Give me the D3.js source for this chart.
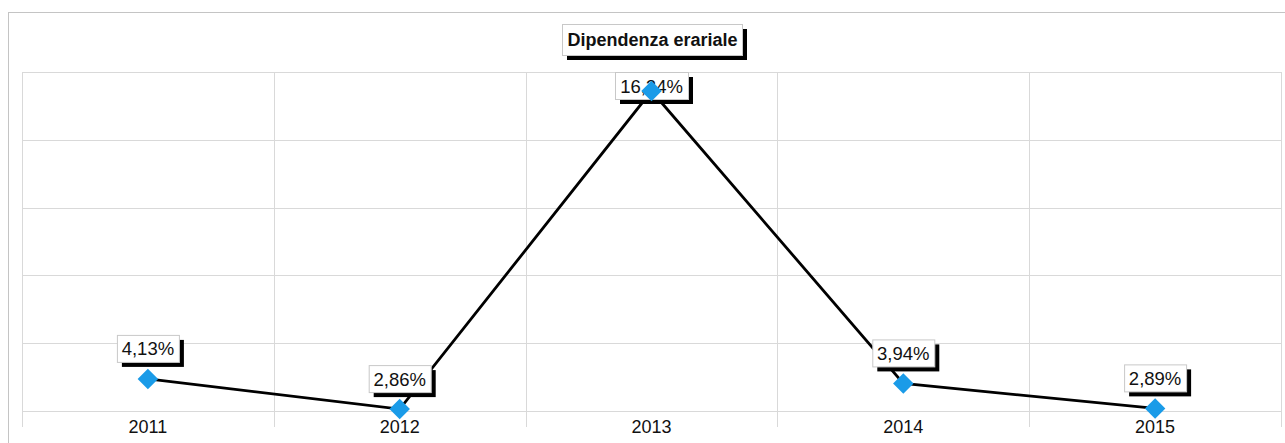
<!DOCTYPE html>
<html>
<head>
<meta charset="utf-8">
<script src="https://cdn.jsdelivr.net/npm/d3@7"></script>
<style>
  body { margin: 0; background: #fff; }
  text { font-family: "Liberation Sans", Arial, sans-serif; }
</style>
</head>
<body>
<div id="chart"></div>
<script>
var years = ['2011', '2012', '2013', '2014', '2015'];
var values = [4.13, 2.86, 16.24, 3.94, 2.89];
var valueLabels = ['4,13%', '2,86%', '16,24%', '3,94%', '2,89%'];
var title = 'Dipendenza erariale';

var width = 1285, height = 443;
var plot = { left: 22, top: 72, right: 1281, bottom: 411 };

var svg = d3.select('#chart').append('svg')
  .attr('width', width)
  .attr('height', height);

// outer frame
svg.append('rect')
  .attr('x', 8.5).attr('y', 12.5)
  .attr('width', width).attr('height', height)
  .attr('fill', '#fff')
  .attr('stroke', '#c4c4c4');

var x = d3.scaleBand().domain(years).range([plot.left, plot.right]);
var yMin = 2.78, yMax = 17.04;
var y = d3.scaleLinear().domain([yMin, yMax]).range([plot.bottom, plot.top]);

// grid
var gridVals = d3.range(6).map(function (i) { return yMin + i * (yMax - yMin) / 5; });
svg.append('g').selectAll('line')
  .data(gridVals).enter().append('line')
  .attr('x1', plot.left).attr('x2', plot.right)
  .attr('y1', function (d) { return Math.round(y(d)) + 0.5; })
  .attr('y2', function (d) { return Math.round(y(d)) + 0.5; })
  .attr('stroke', '#d9d9d9');

var edges = years.map(function (d) { return x(d); }).concat([plot.right]);
svg.append('g').selectAll('line')
  .data(edges).enter().append('line')
  .attr('x1', function (d) { return Math.round(d) + 0.5; })
  .attr('x2', function (d) { return Math.round(d) + 0.5; })
  .attr('y1', plot.top).attr('y2', 427)
  .attr('stroke', '#d9d9d9');

// x axis labels
var xAxis = d3.axisBottom(x).tickSize(0).tickPadding(0);
var gx = svg.append('g')
  .attr('transform', 'translate(0,' + plot.bottom + ')')
  .call(xAxis);
gx.select('.domain').remove();
gx.selectAll('text')
  .attr('dy', null)
  .attr('y', 22)
  .style('font-size', '18px')
  .style('font-family', '"Liberation Sans", Arial, sans-serif')
  .attr('fill', '#111');

// line
var cx = function (d, i) { return x(years[i]) + x.bandwidth() / 2; };
var line = d3.line()
  .x(function (d, i) { return cx(d, i); })
  .y(function (d) { return y(d); });
svg.append('path')
  .datum(values)
  .attr('d', line)
  .attr('fill', 'none')
  .attr('stroke', '#000')
  .attr('stroke-width', 2.8);

// value labels, box sized to text
var bh = 27;
var labels = svg.append('g').selectAll('g')
  .data(values).enter().append('g')
  .attr('transform', function (d, i) {
    var top = Math.max(y(d) - 17 - bh, plot.top);
    return 'translate(' + cx(d, i) + ',' + top + ')';
  });
labels.each(function (d, i) {
  var g = d3.select(this);
  var shadow = g.append('rect').attr('fill', '#000');
  var box = g.append('rect').attr('fill', '#fff').attr('stroke', '#c8c8c8');
  var t = g.append('text')
    .attr('x', 0).attr('y', 20.5)
    .attr('text-anchor', 'middle')
    .style('font-size', '18.5px')
    .attr('fill', '#111')
    .text(valueLabels[i]);
  var bw = Math.round(t.node().getComputedTextLength() + 10);
  box.attr('x', -bw / 2 + 0.5).attr('y', 0.5).attr('width', bw).attr('height', bh);
  shadow.attr('x', -bw / 2 + 5).attr('y', 5).attr('width', bw).attr('height', bh);
});

// markers
svg.append('g').selectAll('path')
  .data(values).enter().append('path')
  .attr('d', d3.symbol().type(d3.symbolSquare).size(210))
  .attr('transform', function (d, i) {
    return 'translate(' + cx(d, i) + ',' + y(d) + ') rotate(45)';
  })
  .attr('fill', '#1a9be8');

// title
var tg = svg.append('g').attr('transform', 'translate(562,24)');
tg.append('rect').attr('x', 5).attr('y', 5).attr('width', 180).attr('height', 31).attr('fill', '#000');
tg.append('rect').attr('x', 0.5).attr('y', 0.5).attr('width', 180).attr('height', 31)
  .attr('fill', '#fff').attr('stroke', '#c8c8c8');
tg.append('text')
  .attr('x', 90.5).attr('y', 22)
  .attr('text-anchor', 'middle')
  .style('font-size', '18px')
  .style('font-weight', 'bold')
  .attr('fill', '#111')
  .text(title);
</script>
</body>
</html>
